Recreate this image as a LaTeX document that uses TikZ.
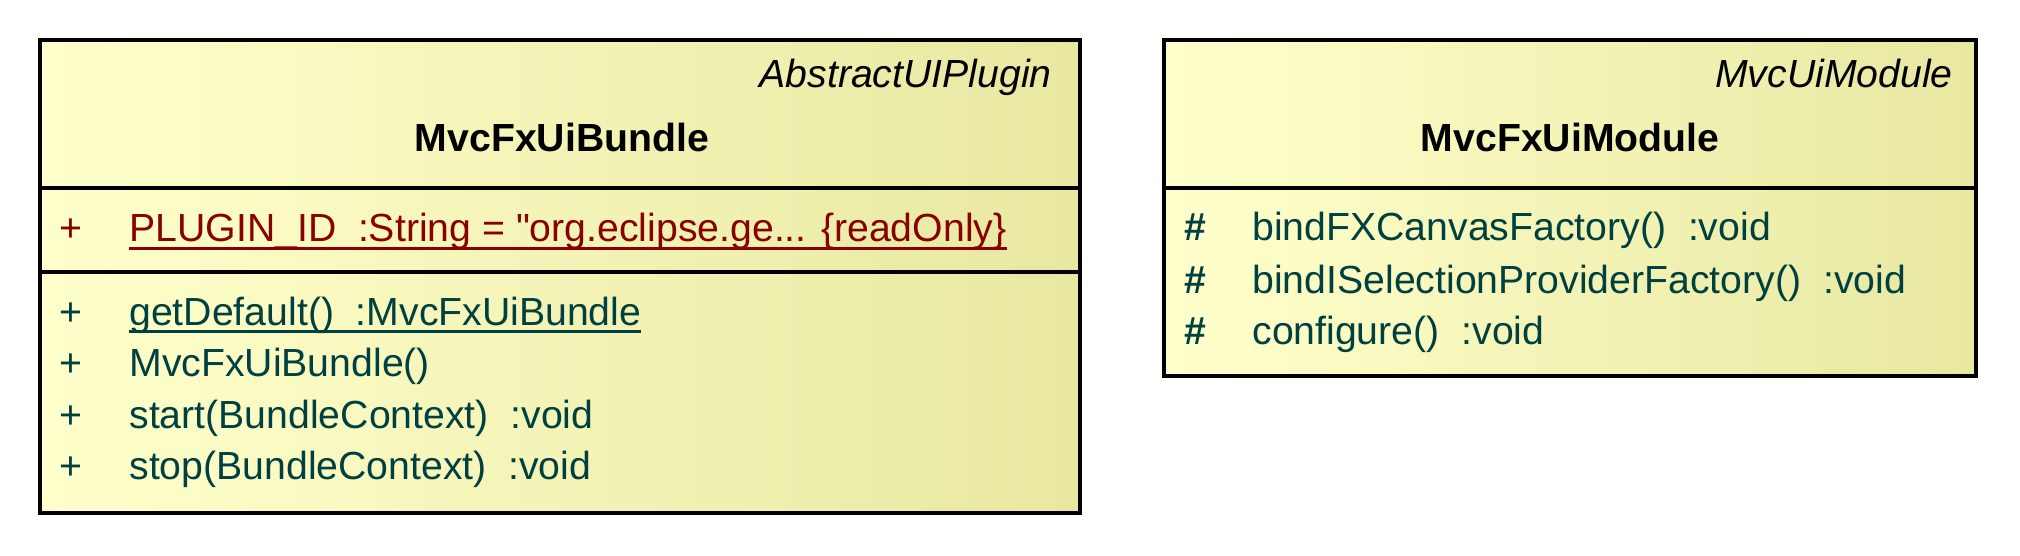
\documentclass[tikz,border=0pt]{standalone}
\usepackage{fontspec}
\setmainfont{Liberation Sans}[Ligatures=TeXOff]
\usepackage{tikz}
\definecolor{umllight}{RGB}{255,255,204}
\definecolor{umldark}{RGB}{232,232,162}
\definecolor{optext}{RGB}{0,64,64}
\definecolor{attrtext}{RGB}{136,0,0}
\newcommand{\staticline}[1]{\setbox0\hbox{#1}\rlap{\rule[-0.2em]{\wd0}{0.08em}}\box0}
\tikzset{
  classbox/.style={draw=black, line width=2pt, left color=umllight, right color=umldark},
  divider/.style={draw=black, line width=1.6pt},
  member/.style={anchor=base west, inner sep=0pt, text=optext},
  vis/.style={anchor=base, inner sep=0pt, text=optext},
}

\begin{document}
\begin{tikzpicture}[x=0.5pt, y=-0.5pt, font=\fontsize{19.6}{23}\selectfont]
  \useasboundingbox (0,0) rectangle (2020,556);

  % MvcFxUiBundle
  \draw[classbox] (40,40) rectangle (1080,513);
  \draw[divider] (40,188) -- (1080,188);
  \draw[divider] (40,272) -- (1080,272);
  \node[anchor=base east, inner sep=0pt] (BSTEREO) at (1052,88) {\itshape AbstractUIPlugin};
  \node[anchor=base, inner sep=0pt] (BNAME) at (562,152) {\bfseries MvcFxUiBundle};

  \node[vis, text=attrtext] (BV0) at (71,242) {+};
  \node[member, text=attrtext] (BATTR) at (129,242) {\staticline{PLUGIN\_ID~~:String = "org.eclipse.ge... \{readOnly\}}};

  \node[vis] (BV1) at (71,325) {+};
  \node[vis] (BV2) at (71,376) {+};
  \node[vis] (BV3) at (71,428) {+};
  \node[vis] (BV4) at (71,479) {+};
  \node[member] (BOP1) at (129,325) {\staticline{getDefault()~~:MvcFxUiBundle}};
  \node[member] (BOP2) at (129,376) {MvcFxUiBundle()};
  \node[member] (BOP3) at (129,428) {start(BundleContext)~~:void};
  \node[member] (BOP4) at (129,479) {stop(BundleContext)~~:void};

  % MvcFxUiModule
  \draw[classbox] (1164,40) rectangle (1976,376);
  \draw[divider] (1164,188) -- (1976,188);
  \node[anchor=base east, inner sep=0pt] (MSTEREO) at (1953,88) {\itshape MvcUiModule};
  \node[anchor=base, inner sep=0pt] (MNAME) at (1570,152) {\bfseries MvcFxUiModule};

  \node[vis] (MV1) at (1195,241) {\bfseries\#};
  \node[vis] (MV2) at (1195,293) {\bfseries\#};
  \node[vis] (MV3) at (1195,344) {\bfseries\#};
  \node[member] (MOP1) at (1252,241) {bindFXCanvasFactory()~~:void};
  \node[member] (MOP2) at (1252,293) {bindISelectionProviderFactory()~~:void};
  \node[member] (MOP3) at (1252,344) {configure()~~:void};
\end{tikzpicture}
\end{document}
